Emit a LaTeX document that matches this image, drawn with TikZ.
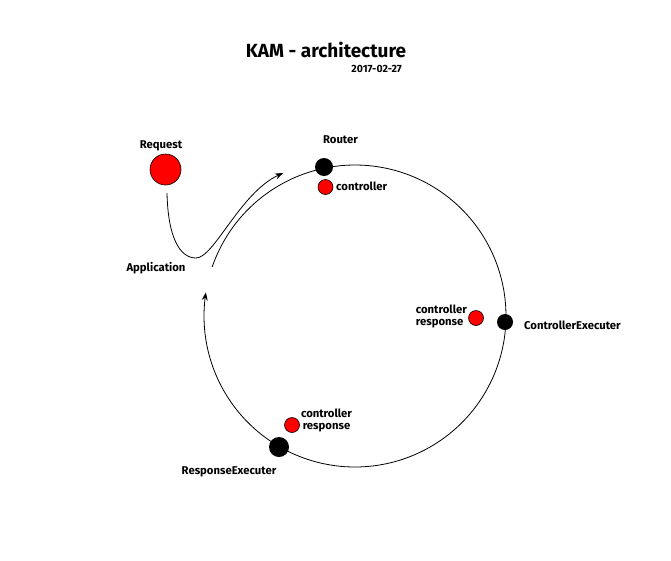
\documentclass[tikz,border=0pt]{standalone}
\usepackage{fontspec}
\setmainfont{Fira Sans}
\usetikzlibrary{arrows.meta}
\begin{document}
\begin{tikzpicture}[x=1pt,y=-1pt,
  lbl/.style={font=\bfseries\fontsize{11.3}{12.5}\selectfont, inner sep=0pt},
  bdot/.style={circle, fill=black, inner sep=0pt},
  rdot/.style={circle, draw=black, fill=red, line width=0.6pt, inner sep=0pt, minimum size=15pt},
  flow/.style={line width=0.8pt, -{Stealth[length=8pt,width=6pt]}}]
\useasboundingbox (0,0) rectangle (671,560);
% title
\node[inner sep=0pt, font=\bfseries\fontsize{19}{21}\selectfont] (title) at (326,50) {KAM - architecture};
\node[inner sep=0pt, anchor=east, font=\bfseries\fontsize{10.5}{12}\selectfont] (date) at (402,69) {2017-02-27};
% ring
\draw[flow] plot[domain=199:549, samples=240, smooth] ({355+151*cos(\x)},{316+151*sin(\x)});
% request
\node[circle, draw=black, fill=red, line width=0.6pt, inner sep=0pt, minimum size=31pt] (req) at (165.5,169.5) {};
\node[lbl] (reqlbl) at (161,146) {Request};
\node[lbl] (app) at (156,268) {Application};
\coordinate (cstart) at (167,193);
\coordinate (cmid) at (196,258);
\coordinate (cend) at (283,173);
\draw[flow] (cstart) .. controls (168,238) and (180,258) .. (cmid)
  .. controls (214,258) and (240,193) .. (cend);
% router
\node[bdot, minimum size=18pt] (router) at (324,167) {};
\node[lbl] (routerlbl) at (340.5,140) {Router};
\node[rdot] (rc) at (325.5,187) {};
\node[lbl, anchor=west] (rclbl) at (336,186.5) {controller};
% controller executer
\node[bdot, minimum size=16pt] (ce) at (505,322) {};
\node[lbl, anchor=west] (celbl) at (524,325) {ControllerExecuter};
\node[rdot] (cer) at (476,318) {};
\node[lbl, anchor=east, align=left] (cerlbl) at (467,316.5) {controller\\response};
% response executer
\node[bdot, minimum size=20pt] (re) at (279,447) {};
\node[lbl] (relbl) at (229,472) {ResponseExecuter};
\node[rdot] (rer) at (292,425) {};
\node[lbl, align=center] (rerlbl) at (326.5,420.5) {controller\\response};
\end{tikzpicture}
\end{document}
